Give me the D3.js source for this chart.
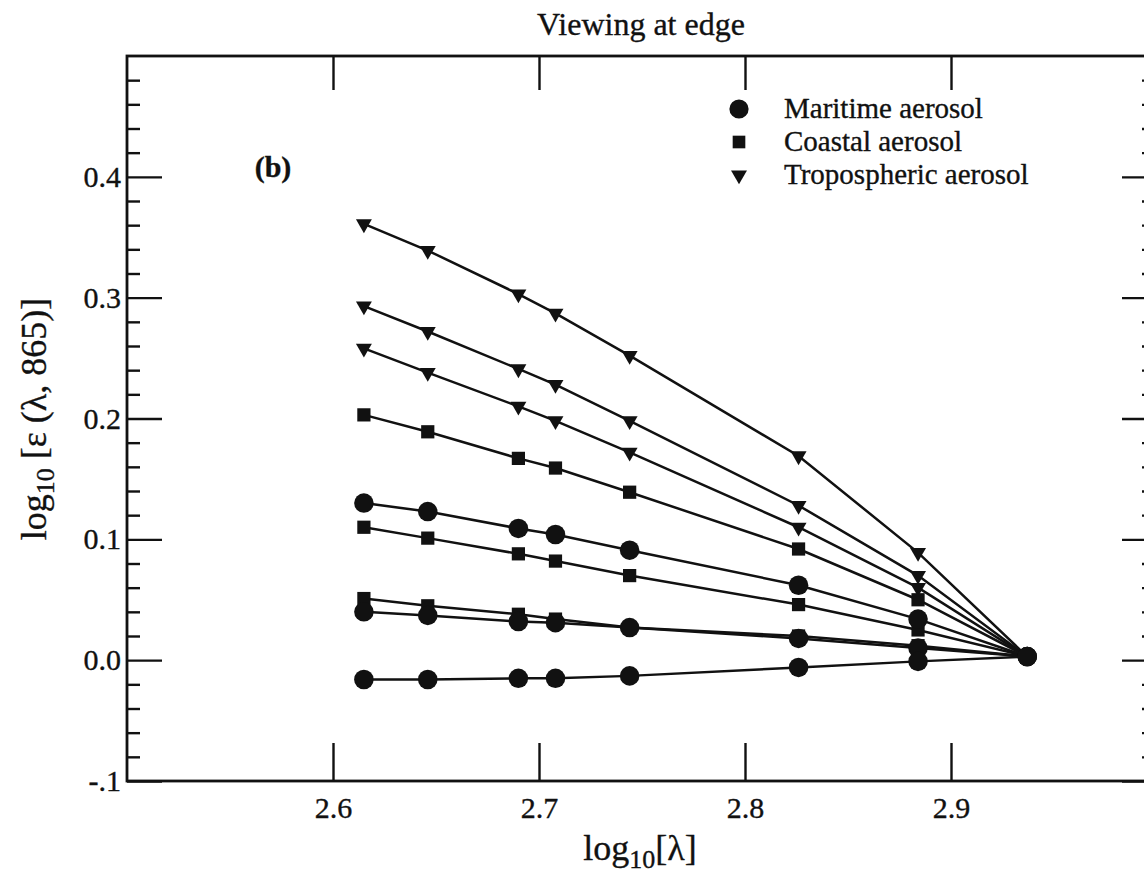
<!DOCTYPE html>
<html>
<head>
<meta charset="utf-8">
<script src="https://cdn.jsdelivr.net/npm/d3@7"></script>
<style>
  html, body { margin: 0; padding: 0; background: #fff; }
  svg { display: block; }
  text { font-family: "Liberation Serif", "Times New Roman", serif; fill: #111; stroke: #111; stroke-width: 0.35px; }
</style>
</head>
<body>
<svg id="chart" width="1144" height="873"></svg>
<script>
// Wavelengths (nm) and their log10 positions on the x axis
const wavelengths = [412, 443, 490, 510, 555, 670, 765, 865];
const logLambda = [2.615, 2.646, 2.690, 2.708, 2.744, 2.826, 2.884, 2.937];

// log10 ε(λ, 865) for each aerosol model curve
const tropospheric1 = [0.361, 0.339, 0.303, 0.287, 0.252, 0.169, 0.089, 0.003];
const tropospheric2 = [0.293, 0.272, 0.241, 0.228, 0.198, 0.128, 0.070, 0.003];
const tropospheric3 = [0.258, 0.238, 0.210, 0.198, 0.172, 0.110, 0.060, 0.003];
const coastal1 = [0.203, 0.189, 0.167, 0.159, 0.139, 0.092, 0.050, 0.003];
const coastal2 = [0.110, 0.101, 0.088, 0.082, 0.070, 0.046, 0.025, 0.003];
const coastal3 = [0.051, 0.045, 0.038, 0.034, 0.027, 0.020, 0.012, 0.003];
const maritime1 = [0.130, 0.123, 0.109, 0.104, 0.091, 0.062, 0.034, 0.003];
const maritime2 = [0.040, 0.037, 0.032, 0.031, 0.027, 0.018, 0.010, 0.003];
const maritime3 = [-0.016, -0.016, -0.015, -0.015, -0.013, -0.006, -0.001, 0.003];

// Axis ticks and labels
const xMajor = [2.6, 2.7, 2.8, 2.9];
const xTickLabels = ["2.6", "2.7", "2.8", "2.9"];
const yMajor = [-0.1, 0.0, 0.1, 0.2, 0.3, 0.4];
const yTickLabels = ["-.1", "0.0", "0.1", "0.2", "0.3", "0.4"];
const yMinor = [-0.08, -0.06, -0.04, -0.02, 0.02, 0.04, 0.06, 0.08, 0.12, 0.14, 0.16, 0.18,
                0.22, 0.24, 0.26, 0.28, 0.32, 0.34, 0.36, 0.38, 0.42, 0.44, 0.46, 0.48];

const legendNames = ["Maritime aerosol", "Coastal aerosol", "Tropospheric aerosol"];
const legendKinds = ["circle", "square", "triangle"];

const series = [
  { kind: "triangle", values: tropospheric1 },
  { kind: "triangle", values: tropospheric2 },
  { kind: "triangle", values: tropospheric3 },
  { kind: "square", values: coastal1 },
  { kind: "square", values: coastal2 },
  { kind: "square", values: coastal3 },
  { kind: "circle", values: maritime1 },
  { kind: "circle", values: maritime2 },
  { kind: "circle", values: maritime3 }
];

const svg = d3.select("#chart");
const frameLeft = 127, frameRight = 1157, frameTop = 56, frameBottom = 781;

const x = d3.scaleLinear().domain([2.5, 3.0]).range([frameLeft, frameRight]);
const y = d3.scaleLinear().domain([-0.1, 0.5]).range([frameBottom, frameTop]);

// Frame
svg.append("rect")
  .attr("x", frameLeft).attr("y", frameTop)
  .attr("width", frameRight - frameLeft).attr("height", frameBottom - frameTop)
  .attr("fill", "none").attr("stroke", "#111").attr("stroke-width", 2.8);

function styleAxis(g) {
  g.select(".domain").remove();
  g.selectAll(".tick line").attr("stroke", "#111").attr("stroke-width", 2.4);
  g.selectAll(".tick text").attr("font-size", 30)
    .attr("font-family", "'Liberation Serif', 'Times New Roman', serif").attr("fill", "#111");
}

// Left axis
svg.append("g").attr("transform", `translate(${frameLeft},0)`)
  .call(d3.axisLeft(y).tickValues(yMajor).tickSizeInner(-35).tickSizeOuter(0).tickPadding(6)
    .tickFormat((d, i) => yTickLabels[i]))
  .call(styleAxis);
svg.append("g").attr("transform", `translate(${frameLeft},0)`)
  .call(d3.axisLeft(y).tickValues(yMinor).tickSizeInner(-13).tickSizeOuter(0).tickFormat(""))
  .call(styleAxis);

// Right axis
svg.append("g").attr("transform", `translate(${frameRight},0)`)
  .call(d3.axisRight(y).tickValues(yMajor).tickSizeInner(-35).tickSizeOuter(0).tickFormat(""))
  .call(styleAxis);
svg.append("g").attr("transform", `translate(${frameRight},0)`)
  .call(d3.axisRight(y).tickValues(yMinor).tickSizeInner(-15).tickSizeOuter(0).tickFormat(""))
  .call(styleAxis);

// Bottom axis
svg.append("g").attr("transform", `translate(0,${frameBottom})`)
  .call(d3.axisBottom(x).tickValues(xMajor).tickSizeInner(-38).tickSizeOuter(0).tickPadding(16)
    .tickFormat((d, i) => xTickLabels[i]))
  .call(styleAxis);

// Top axis
svg.append("g").attr("transform", `translate(0,${frameTop})`)
  .call(d3.axisTop(x).tickValues(xMajor).tickSizeInner(-34).tickSizeOuter(0).tickFormat(""))
  .call(styleAxis);

// Marker shapes
const markerPath = {
  circle: d3.symbol().type(d3.symbolCircle).size(300)(),
  square: d3.symbol().type(d3.symbolSquare).size(175)(),
  triangle: d3.symbol().type(d3.symbolTriangle).size(110)()
};
const markerRotate = { circle: 0, square: 0, triangle: 180 };

const line = d3.line().x((d, i) => x(logLambda[i])).y(d => y(d));

const plot = svg.append("g");
plot.selectAll("path.curve")
  .data(series)
  .join("path")
  .attr("class", "curve")
  .attr("d", s => line(s.values))
  .attr("fill", "none")
  .attr("stroke", "#111")
  .attr("stroke-width", 2.5);

series.forEach(s => {
  plot.append("g").selectAll("path")
    .data(s.values)
    .join("path")
    .attr("d", markerPath[s.kind])
    .attr("transform", (d, i) => `translate(${x(logLambda[i])},${y(d)}) rotate(${markerRotate[s.kind]})`)
    .attr("fill", "#111");
});

// Legend
const legendPath = {
  circle: d3.symbol().type(d3.symbolCircle).size(290)(),
  square: d3.symbol().type(d3.symbolSquare).size(160)(),
  triangle: d3.symbol().type(d3.symbolTriangle).size(110)()
};
const legend = svg.append("g");
legendNames.forEach((name, i) => {
  const cy = 109 + i * 33;
  legend.append("path")
    .attr("d", legendPath[legendKinds[i]])
    .attr("transform", `translate(739,${cy}) rotate(${markerRotate[legendKinds[i]]})`)
    .attr("fill", "#111");
  legend.append("text")
    .attr("x", 784).attr("y", cy + 9)
    .attr("font-size", 29)
    .text(name);
});

// Panel letter
svg.append("text").attr("x", 273).attr("y", 177)
  .attr("text-anchor", "middle").attr("font-size", 30).attr("font-weight", "bold")
  .text("(b)");

// Title
svg.append("text").attr("x", 641).attr("y", 35)
  .attr("text-anchor", "middle").attr("font-size", 32)
  .text("Viewing at edge");

// X axis title
const xt = svg.append("text").attr("x", 640).attr("y", 860)
  .attr("text-anchor", "middle").attr("font-size", 36);
xt.append("tspan").text("log");
xt.append("tspan").attr("font-size", 26).attr("dy", 8).text("10");
xt.append("tspan").attr("dy", -8).text("[λ]");

// Y axis title
const yt = svg.append("text")
  .attr("transform", "translate(46,419) rotate(-90)")
  .attr("text-anchor", "middle").attr("font-size", 36);
yt.append("tspan").text("log");
yt.append("tspan").attr("font-size", 26).attr("dy", 8).text("10");
yt.append("tspan").attr("dy", -8).text(" [ε (λ, 865)]");
</script>
</body>
</html>
